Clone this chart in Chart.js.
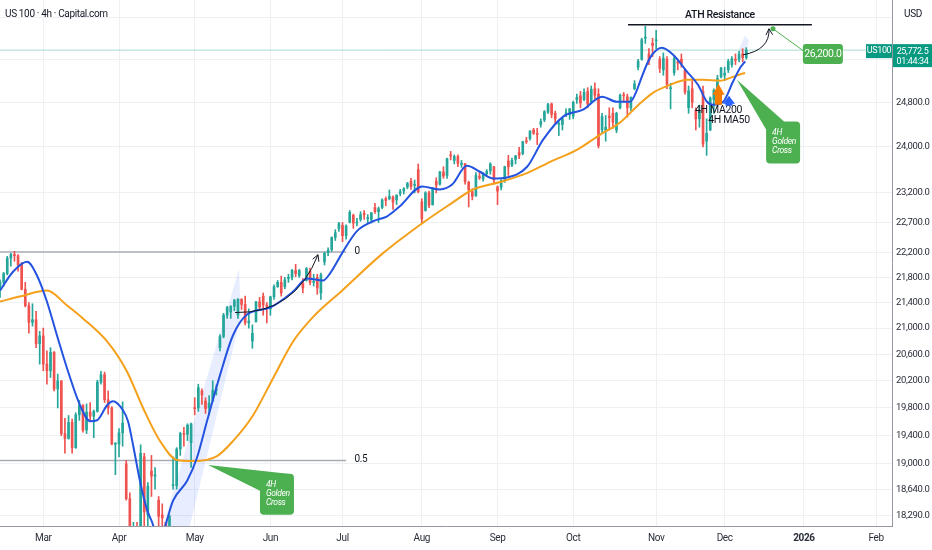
<!DOCTYPE html>
<html>
<head>
<meta charset="utf-8">
<script src="https://cdn.jsdelivr.net/npm/chart.js@4.4.1/dist/chart.umd.min.js"></script>
<style>
html,body{margin:0;padding:0;background:#ffffff;}
#wrap{width:932px;height:550px;position:relative;}
</style>
</head>
<body>
<div id="wrap"><canvas id="c"></canvas></div>
<script>
const FONT = 'Roboto, "Liberation Sans", sans-serif';
const SPACING = '-0.35px';

// ---- candles: one per trading day, day 0 = first trading day of March 2025
const firstDay = -12;
const opens = [
21600,21720,21860,22110,22170,22150,22000,21610,21350,21090,
21130,20760,20880,20450,20350,20630,20080,20200,19430,19360,
19590,19230,19700,19840,19480,19740,19680,19750,20180,20290,
19920,19800,19280,19280,19440,19000,18520,17000,17900,17100,
19100,18300,18900,18830,18500,18300,18200,17850,18700,18700,
19210,19430,19420,19300,19800,19800,20050,19900,19800,19900,
20060,20700,20870,21200,21250,21340,21200,21450,21370,21080,
20800,21100,21410,21500,21360,21300,21490,21650,21720,21650,
21780,21800,21910,21830,21700,21750,21900,21720,21800,21550,
22050,22200,22250,22450,22600,22650,22480,22700,22820,22690,
22750,22850,22760,22750,22950,22880,22950,23100,23100,23130,
23080,23190,23230,23300,23400,23330,23600,23050,22900,23200,
23000,23400,23350,23560,23500,23850,23760,23830,23690,23700,
23380,23220,23150,23480,23440,23530,23580,23650,23300,23300,
23420,23750,23680,23780,23900,23880,24100,24150,24300,24240,
24400,24480,24620,24770,24600,24400,24400,24580,24580,24550,
24850,24920,24850,25000,24800,25050,24950,24300,24300,24550,
24600,24300,24700,24930,24900,24700,25050,25450,25600,26000,
25700,25900,25950,25600,25400,25600,25050,25350,25550,25600,
25400,24700,25050,24650,24500,25000,24100,24300,24850,25050,
25270,25300,25400,25500,25600,25600,25700,25630];
const highs = [
21760,21880,22140,22190,22222,22170,22040,21720,21400,21380,
21260,20950,21000,20650,20700,20640,20300,20200,19650,19690,
19640,19730,19910,19850,19860,19880,19770,20210,20340,20330,
20050,19820,19300,19500,19890,19050,18600,18200,18200,19270,
19150,18740,19120,18950,18550,18450,18200,18300,19100,19230,
19450,19520,19570,19580,19950,20150,20080,19950,19980,20200,
20140,20900,21230,21340,21350,21450,21460,21460,21500,21300,
21050,21420,21480,21550,21400,21500,21680,21750,21820,21800,
21850,21930,22010,21930,21780,21960,21950,21850,21850,21870,
22210,22280,22460,22580,22700,22700,22660,22900,22840,22770,
22880,22900,22830,22870,23020,22960,23100,23130,23250,23150,
23170,23260,23290,23380,23450,23420,23700,23100,23220,23230,
23290,23460,23570,23650,23800,23920,23860,23860,23760,23710,
23400,23270,23550,23550,23550,23600,23720,23660,23320,23430,
23660,23850,23800,23850,23990,24100,24170,24290,24330,24330,
24500,24650,24780,24790,24640,24450,24530,24680,24690,24820,
24950,25000,25050,25070,25100,25160,25050,24600,24560,24700,
24700,24620,24950,24980,24950,24900,25200,25600,26000,26230,
25800,26000,26150,25650,25720,25650,25150,25650,25600,25700,
25420,25100,25200,24700,24750,25100,24500,24900,25050,25300,
25450,25450,25600,25650,25700,25750,25800,25820];
const lows = [
21480,21660,21840,21980,22060,21900,21600,21330,20920,21030,
20700,20450,20350,20150,20250,20050,19800,19400,19150,19350,
19150,19220,19620,19450,19430,19600,19370,19740,20150,19880,
19710,19270,18850,19100,19250,18500,17400,16540,17000,16900,
17700,18100,18550,18650,18000,18150,17600,17850,18650,18650,
19120,19250,19330,18950,19700,19750,19850,19720,19700,19900,
19990,20650,20850,21150,21150,21270,21150,21290,21050,21000,
20690,21090,21300,21200,21080,21200,21450,21640,21500,21620,
21720,21760,21810,21800,21550,21740,21680,21660,21530,21450,
22000,22150,22220,22400,22550,22380,22420,22690,22600,22640,
22720,22750,22680,22690,22850,22700,22930,22980,23080,22920,
23000,23150,23180,23270,23260,23200,23200,22690,22890,22950,
22990,23200,23330,23450,23450,23770,23700,23650,23640,23350,
22960,23080,23140,23430,23400,23480,23520,23350,23000,23250,
23380,23500,23650,23700,23790,23860,24060,24120,24220,24040,
24350,24450,24600,24520,24420,24200,24300,24540,24490,24500,
24780,24700,24830,24700,24780,24860,23980,24250,24100,24300,
24330,24250,24680,24800,24530,24650,25030,25400,25580,25900,
25500,25650,25800,25350,25300,25050,24680,25300,25400,25450,
24950,24600,24700,24300,24350,24000,23850,24290,24600,25000,
25250,25200,25350,25450,25500,25550,25550,25600];
const closes = [
21720,21860,22110,22170,22150,22000,21610,21350,21090,21130,
20760,20880,20450,20350,20630,20080,20200,19430,19360,19590,
19230,19700,19840,19480,19740,19680,19750,20180,20290,19920,
19800,19280,19280,19440,19580,18520,17400,17430,17090,19150,
18340,18690,18830,18850,18280,18260,17810,18280,18710,19210,
19430,19420,19550,19570,19790,20100,19990,19790,19870,20060,
20060,20870,21200,21320,21340,21430,21450,21370,21080,21110,
20920,21410,21330,21360,21340,21490,21650,21720,21550,21760,
21800,21910,21860,21910,21630,21940,21720,21720,21630,21840,
22190,22240,22450,22530,22680,22480,22640,22870,22690,22700,
22830,22830,22780,22860,22880,22930,23080,23070,23140,23040,
23160,23220,23270,23360,23310,23340,23220,22760,23200,22990,
23260,23330,23560,23490,23790,23840,23830,23710,23710,23390,
23250,23140,23500,23460,23530,23570,23700,23420,23230,23410,
23650,23650,23760,23840,23850,24090,24090,24280,24240,24220,
24450,24630,24760,24580,24500,24400,24500,24610,24680,24800,
24890,24790,24980,24770,25040,24930,24020,24540,24350,24520,
24440,24600,24930,24920,24700,24890,25140,25560,25970,26010,
25580,25860,25970,25430,25620,25130,25060,25610,25530,25520,
24990,25010,24800,24500,24640,24050,24240,24880,25020,25240,
25430,25340,25560,25610,25580,25690,25630,25772];

// ---- moving averages
const ma50Days = [-12.0,-8.4,-4.5,-1.75,1.0,3.8,6.6,10.2,13.0,14.9,17.7,19.3,22.1,23.5,24.9,26.8,28.8,30.2,31.8,33.2,34.3,36.0,39.9,42.6,45.4,49.0,52.6,56.5,62.9,69.3,73.2,77.6,79.5,83.1,87.0,91.5,95.4,98.9,105.1,110.0,113.4,117.5,121.1,124.8,128.6,134.2,138.6,144.2,149.7,155.0,159.1,162.8,164.7,165.5,168.3,171.6,174.7,178.6,181.6,184.1,185.8,188.6,191.3,193.3,194.7];
const ma50Vals = [21589,21890,22050,21830,21415,20886,20385,19839,19608,19622,19839,19898,19767,19608,19268,18766,18365,18200,17980,18050,18230,18493,18766,19083,19608,20281,20886,21210,21321,21573,21780,21748,21860,22213,22555,22720,22803,22971,23310,23258,23342,23667,23564,23447,23464,23650,24124,24541,24666,24902,24811,24811,25030,25178,25626,25816,25683,25364,25122,24811,24756,24811,25178,25439,25560];
const ma200Days = [-12.0,-6.5,1.0,6.6,11.0,17.7,23.2,27.7,32.4,37.1,41.5,48.2,52.6,58.2,63.7,69.3,74.8,82.9,94.0,105.9,112.8,119.2,126.7,134.2,140.6,148.0,154.4,160.0,164.7,169.1,173.9,178.6,183.0,187.7,191.3,193.8,194.7];
const ma200Vals = [21415,21494,21589,21352,21150,20794,20340,19796,19322,19055,19041,19111,19322,19695,20236,20794,21170,21590,22180,22720,23005,23258,23387,23540,23737,23947,24214,24434,24730,24975,25122,25215,25215,25197,25270,25327,25340];

// ---- axes
const monthTickDays = [0,21,42,63,83,105,126,147,170,189,211,231];
const monthTickLabels = ['Mar','Apr','May','Jun','Jul','Aug','Sep','Oct','Nov','Dec','2026','Feb'];
const priceTicks = [18290,18640,19000,19400,19800,20200,20600,21000,21400,21800,22200,22700,23200,24000,24800];
const hiddenPriceTicks = [25600,26400];
const xMin = -12.01, xMax = 235.42, yMin = 18151, yMax = 26742;

// ---- annotations (day, price)
const lastPrice = 25772.5, countdown = '01:44:34', symbolTag = 'US100';
const fibPrices = [22210, 19050], fibLabels = ['0', '0.5'], fibEndDay = 84, fibLabelDay = 86.3;
const athPrice = 26258, athStartDay = 162.2, athEndDay = 213.2, athLabelDay = 187.7;
const targetPrice = 26200, targetDot = [202.4, 26181], targetBox = [210.7, 25701];
const juneArrow = [[53.2,21242],[69.8,21226],[76.2,22166]];
const decArrow = [[194.1,25683],[201.6,25778],[201.3,26181]];
const rallyBand = [[32.3,18000],[39.9,18000],[54.8,21180],[54.3,21940]];
const projBand = [[192.4,25701],[194.6,26045],[195.7,25967],[194.9,25701]];
const ma200Arrow = {day:187.3, tip:25140, base:24756, label:'4H MA200', labelPrice:24657};
const ma50Arrow = {day:190.2, tip:24920, base:24738, label:'4H MA50', labelPrice:24470};
const callouts = [
  {tip:[192.4,25215], box:[200.5,24452], w:34, h:42, wedge:[[18,0],[0,8]], lines:['4H','Golden','Cross']},
  {tip:[45.7,18985], box:[60.1,18862], w:34, h:41, wedge:[[28,0],[0,17]], lines:['4H','Golden','Cross']}
];

const UP = '#26a69a', DOWN = '#ef5350';
const candleColors = opens.map((o,i) => closes[i] >= o ? UP : DOWN);
const wickData = opens.map((o,i) => ({x: firstDay + i, y: [lows[i], highs[i]]}));
const bodyData = opens.map((o,i) => ({x: firstDay + i, y: [o, closes[i]]}));
const ma50Data = ma50Days.map((d,i) => ({x: d, y: ma50Vals[i]}));
const ma200Data = ma200Days.map((d,i) => ({x: d, y: ma200Vals[i]}));

const fmt = v => v.toLocaleString('en-US', {minimumFractionDigits:1, maximumFractionDigits:1});

function roundRect(ctx, x, y, w, h, r) {
  ctx.beginPath();
  ctx.moveTo(x + r, y);
  ctx.lineTo(x + w - r, y); ctx.quadraticCurveTo(x + w, y, x + w, y + r);
  ctx.lineTo(x + w, y + h - r); ctx.quadraticCurveTo(x + w, y + h, x + w - r, y + h);
  ctx.lineTo(x + r, y + h); ctx.quadraticCurveTo(x, y + h, x, y + h - r);
  ctx.lineTo(x, y + r); ctx.quadraticCurveTo(x, y, x + r, y);
  ctx.closePath();
}

const annot = {
  id: 'annot',
  beforeDraw(chart) { chart.ctx.letterSpacing = SPACING; },
  beforeDatasetsDraw(chart) {
    const {ctx, chartArea: a, scales: {x, y}} = chart;
    const X = v => x.getPixelForValue(v), Y = v => y.getPixelForValue(v);
    ctx.save();
    ctx.beginPath(); ctx.rect(a.left, a.top, a.right - a.left, a.bottom - a.top); ctx.clip();
    ctx.fillStyle = 'rgba(41,98,255,0.11)';
    [rallyBand, projBand].forEach(poly => {
      ctx.beginPath();
      poly.forEach(([d,p], i) => i ? ctx.lineTo(X(d), Y(p)) : ctx.moveTo(X(d), Y(p)));
      ctx.closePath(); ctx.fill();
    });
    const py = Y(lastPrice);
    ctx.strokeStyle = 'rgba(8,153,129,0.35)'; ctx.lineWidth = 1;
    ctx.beginPath(); ctx.moveTo(a.left, py); ctx.lineTo(a.right, py); ctx.stroke();
    ctx.strokeStyle = '#a9acb5'; ctx.lineWidth = 1.5;
    ctx.font = `10px ${FONT}`; ctx.fillStyle = '#131722'; ctx.textAlign = 'left'; ctx.textBaseline = 'middle';
    fibPrices.forEach((p, i) => {
      const yy = Y(p);
      ctx.beginPath(); ctx.moveTo(a.left, yy); ctx.lineTo(X(fibEndDay), yy); ctx.stroke();
      ctx.fillText(fibLabels[i], X(fibLabelDay), yy - 1);
    });
    ctx.restore();
  },
  afterDatasetsDraw(chart) {
    const {ctx, chartArea: a, scales: {x, y}} = chart;
    const X = v => x.getPixelForValue(v), Y = v => y.getPixelForValue(v);
    ctx.save();
    ctx.strokeStyle = '#131722'; ctx.lineWidth = 1.5;
    ctx.beginPath(); ctx.moveTo(X(athStartDay), Y(athPrice)); ctx.lineTo(X(athEndDay), Y(athPrice)); ctx.stroke();
    ctx.fillStyle = '#131722'; ctx.font = `500 10.5px ${FONT}`; ctx.textAlign = 'center'; ctx.textBaseline = 'middle';
    ctx.fillText('ATH Resistance', X(athLabelDay), Y(athPrice) - 9);
    [juneArrow, decArrow].forEach(pts => {
      const [s, c, e] = pts.map(([d,p]) => [X(d), Y(p)]);
      ctx.strokeStyle = '#131722'; ctx.lineWidth = 1;
      ctx.beginPath(); ctx.moveTo(s[0], s[1]); ctx.quadraticCurveTo(c[0], c[1], e[0], e[1]); ctx.stroke();
      const ang = Math.atan2(e[1] - c[1], e[0] - c[0]);
      ctx.beginPath();
      ctx.moveTo(e[0] + 7 * Math.cos(ang + Math.PI - 0.5), e[1] + 7 * Math.sin(ang + Math.PI - 0.5));
      ctx.lineTo(e[0], e[1]);
      ctx.lineTo(e[0] + 7 * Math.cos(ang + Math.PI + 0.5), e[1] + 7 * Math.sin(ang + Math.PI + 0.5));
      ctx.stroke();
    });
    const dx = X(targetDot[0]), dy = Y(targetDot[1]);
    const bx = X(targetBox[0]), by = Y(targetBox[1]);
    ctx.strokeStyle = '#4caf50'; ctx.lineWidth = 1;
    ctx.beginPath(); ctx.moveTo(dx, dy); ctx.lineTo(bx + 2, by - 2); ctx.stroke();
    ctx.fillStyle = '#4caf50';
    ctx.beginPath(); ctx.arc(dx, dy, 2.5, 0, Math.PI * 2); ctx.fill();
    roundRect(ctx, bx, by - 10, 40, 20, 3); ctx.fill();
    ctx.fillStyle = '#ffffff'; ctx.font = `10.5px ${FONT}`; ctx.textAlign = 'center';
    ctx.fillText(fmt(targetPrice), bx + 20, by + 0.5);
    [[ma200Arrow, '#f57c00', 11], [ma50Arrow, '#2962ff', 8]].forEach(([m, col, hh]) => {
      const cx = X(m.day), ty = Y(m.tip), byy = Y(m.base);
      ctx.fillStyle = col;
      ctx.beginPath();
      ctx.moveTo(cx, ty); ctx.lineTo(cx + 6, ty + hh); ctx.lineTo(cx + 3.5, ty + hh);
      ctx.lineTo(cx + 3.5, byy); ctx.lineTo(cx - 3.5, byy); ctx.lineTo(cx - 3.5, ty + hh);
      ctx.lineTo(cx - 6, ty + hh); ctx.closePath(); ctx.fill();
      ctx.fillStyle = '#131722'; ctx.font = `10.5px ${FONT}`; ctx.textAlign = 'center'; ctx.textBaseline = 'middle';
      ctx.fillText(m.label, cx, Y(m.labelPrice));
    });
    callouts.forEach(c => {
      const tx = X(c.tip[0]), ty = Y(c.tip[1]), cbx = X(c.box[0]), cby = Y(c.box[1]);
      ctx.fillStyle = '#4caf50';
      ctx.beginPath(); ctx.moveTo(tx, ty);
      ctx.lineTo(cbx + c.wedge[0][0], cby + c.wedge[0][1]);
      ctx.lineTo(cbx + c.wedge[1][0], cby + c.wedge[1][1]);
      ctx.closePath(); ctx.fill();
      roundRect(ctx, cbx, cby, c.w, c.h, 4); ctx.fill();
      ctx.fillStyle = '#ffffff'; ctx.font = `italic 8.5px ${FONT}`; ctx.textAlign = 'left'; ctx.textBaseline = 'middle';
      c.lines.forEach((t, i) => ctx.fillText(t, cbx + 6, cby + 11 + i * 9));
    });
    ctx.restore();
  },
  afterDraw(chart) {
    const {ctx, chartArea: a, scales: {y}} = chart;
    ctx.save();
    ctx.fillStyle = '#131722'; ctx.font = `10px ${FONT}`; ctx.textAlign = 'left'; ctx.textBaseline = 'middle';
    ctx.fillText('US 100 · 4h · Capital.com', 5, 14);
    ctx.fillText('USD', 904, 14);
    const py = y.getPixelForValue(lastPrice);
    ctx.fillStyle = '#089981';
    ctx.fillRect(a.right - 26, py - 6, 26, 14);
    ctx.fillRect(a.right + 1, py - 6, 39, 23);
    ctx.fillStyle = '#ffffff'; ctx.font = `9px ${FONT}`; ctx.textAlign = 'center';
    ctx.fillText(symbolTag, a.right - 13, py + 1);
    ctx.fillText(fmt(lastPrice), a.right + 20.5, py + 1.5);
    ctx.fillText(countdown, a.right + 20.5, py + 11.5);
    ctx.restore();
  }
};

new Chart(document.getElementById('c'), {
  type: 'bar',
  data: {
    datasets: [
      {type: 'line', data: ma50Data, borderColor: '#2453e0', borderWidth: 2, pointRadius: 0, cubicInterpolationMode: 'monotone', order: 0},
      {type: 'line', data: ma200Data, borderColor: '#f5a01a', borderWidth: 2, pointRadius: 0, cubicInterpolationMode: 'monotone', order: 0},
      {data: bodyData, backgroundColor: candleColors, barThickness: 2, grouped: false, minBarLength: 1, borderWidth: 0, order: 1},
      {data: wickData, backgroundColor: candleColors, barThickness: 1, grouped: false, borderWidth: 0, order: 2}
    ]
  },
  options: {
    responsive: true, maintainAspectRatio: false, animation: false, events: [],
    layout: {padding: 0},
    plugins: {legend: {display: false}, tooltip: {enabled: false}, title: {display: false}},
    scales: {
      x: {
        type: 'linear', min: xMin, max: xMax, offset: false,
        afterBuildTicks: s => { s.ticks = monthTickDays.map(v => ({value: v})); },
        afterFit: s => { s.height = 24; s.paddingLeft = 0; s.paddingRight = 0; },
        ticks: {
          autoSkip: false, maxRotation: 0, minRotation: 0, padding: 6, color: '#2a2e39',
          callback: v => { const i = monthTickDays.indexOf(v); return i >= 0 ? monthTickLabels[i] : ''; },
          font: c => ({family: FONT, size: 10, weight: (c.tick && c.tick.value === 211) ? 'bold' : 'normal'})
        },
        grid: {color: '#eef0f4', drawTicks: false, offset: false},
        border: {color: '#9598a1', width: 1}
      },
      y: {
        type: 'logarithmic', position: 'right', min: yMin, max: yMax,
        afterBuildTicks: s => { s.ticks = priceTicks.concat(hiddenPriceTicks).map(v => ({value: v})); },
        afterFit: s => { s.width = 40; s.paddingTop = 0; s.paddingBottom = 0; },
        ticks: {
          autoSkip: false, padding: 4, color: '#2a2e39', font: {family: FONT, size: 9.5},
          callback: v => hiddenPriceTicks.includes(v) ? '' : fmt(v)
        },
        grid: {color: '#eef0f4', drawTicks: false},
        border: {color: '#9598a1', width: 1}
      }
    }
  },
  plugins: [annot]
});
</script>
</body>
</html>
